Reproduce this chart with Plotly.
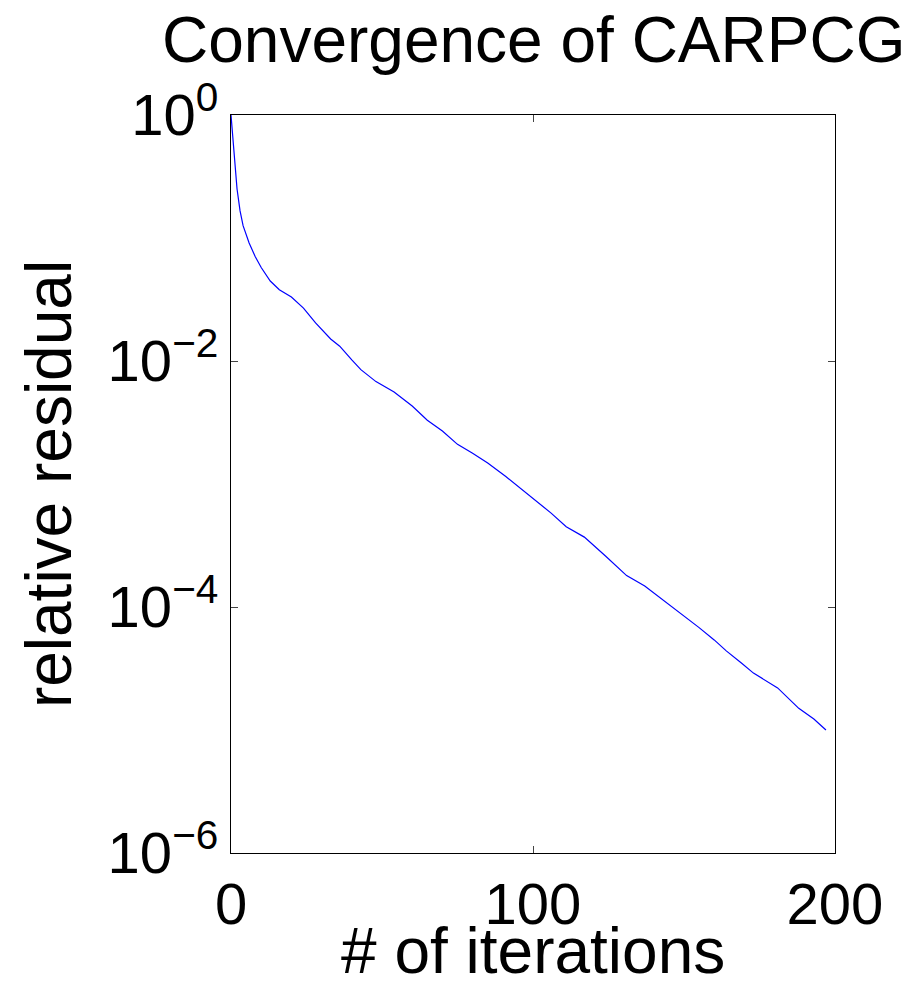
import plotly.graph_objects as go

iterations = [0, 1, 2, 3, 4, 6, 8, 10, 13, 16, 20, 24, 28, 33, 36, 40, 43, 48, 54, 60,
              65, 70, 75, 80, 85, 91, 96, 101, 106, 111, 117, 124, 131, 137, 144, 150,
              155, 160, 164, 169, 173, 181, 188, 193, 197]
residual = [1.0, 0.5, 0.25, 0.166, 0.126, 0.091, 0.0708, 0.0575, 0.0447, 0.038, 0.0331,
            0.0269, 0.0204, 0.0151, 0.0132, 0.0102, 0.0085, 0.0068, 0.0056, 0.0043,
            0.0033, 0.0027, 0.0021, 0.00178, 0.00148, 0.00115, 0.00091, 0.00072, 0.00058,
            0.00045, 0.00037, 0.00026, 0.00018, 0.000148, 0.00011, 0.000085, 0.000068,
            0.000054, 0.000044, 0.000035, 0.000029, 0.000022, 0.000015, 0.0000123, 0.00001]

x_ticks = [0, 100, 200]
y_ticks = [1e-6, 1e-4, 1e-2, 1e0]
y_ticktext = ["10<sup>\u22126</sup>", "10<sup>\u22124</sup>", "10<sup>\u22122</sup>", "10<sup>0</sup>"]

FONT = "Liberation Sans, Arial, Helvetica, sans-serif"

fig = go.Figure()
fig.add_trace(go.Scatter(x=iterations, y=residual, mode="lines",
                         line=dict(color="#0000ff", width=1.2), showlegend=False))

fig.update_layout(
    width=919, height=987,
    margin=dict(l=231, r=84, t=115, b=134),
    paper_bgcolor="white", plot_bgcolor="white",
    font=dict(family=FONT, color="black", size=58),
    annotations=[
        dict(text="Convergence of CARPCG", x=0.5, y=1, xref="paper", yref="paper",
             xanchor="center", yanchor="bottom", yshift=37, showarrow=False,
             font=dict(family=FONT, size=64, color="black")),
        dict(text="# of iterations", x=0.5, y=0, xref="paper", yref="paper",
             xanchor="center", yanchor="top", yshift=-60, showarrow=False,
             font=dict(family=FONT, size=64, color="black")),
    ],
)
fig.update_xaxes(range=[0, 200], tickvals=x_ticks, ticks="inside", ticklen=7,
                 showline=True, linecolor="black", linewidth=1, mirror="ticks",
                 showgrid=False, zeroline=False, tickfont=dict(size=58), automargin=False)
fig.update_yaxes(type="log", range=[-6, 0], tickvals=y_ticks, ticktext=y_ticktext,
                 ticks="inside", ticklen=7, showline=True, linecolor="black", linewidth=1,
                 mirror="ticks", showgrid=False, zeroline=False, tickfont=dict(size=58),
                 automargin=False,
                 title=dict(text="relative residual", font=dict(size=64)))

fig.write_html("out.html")
